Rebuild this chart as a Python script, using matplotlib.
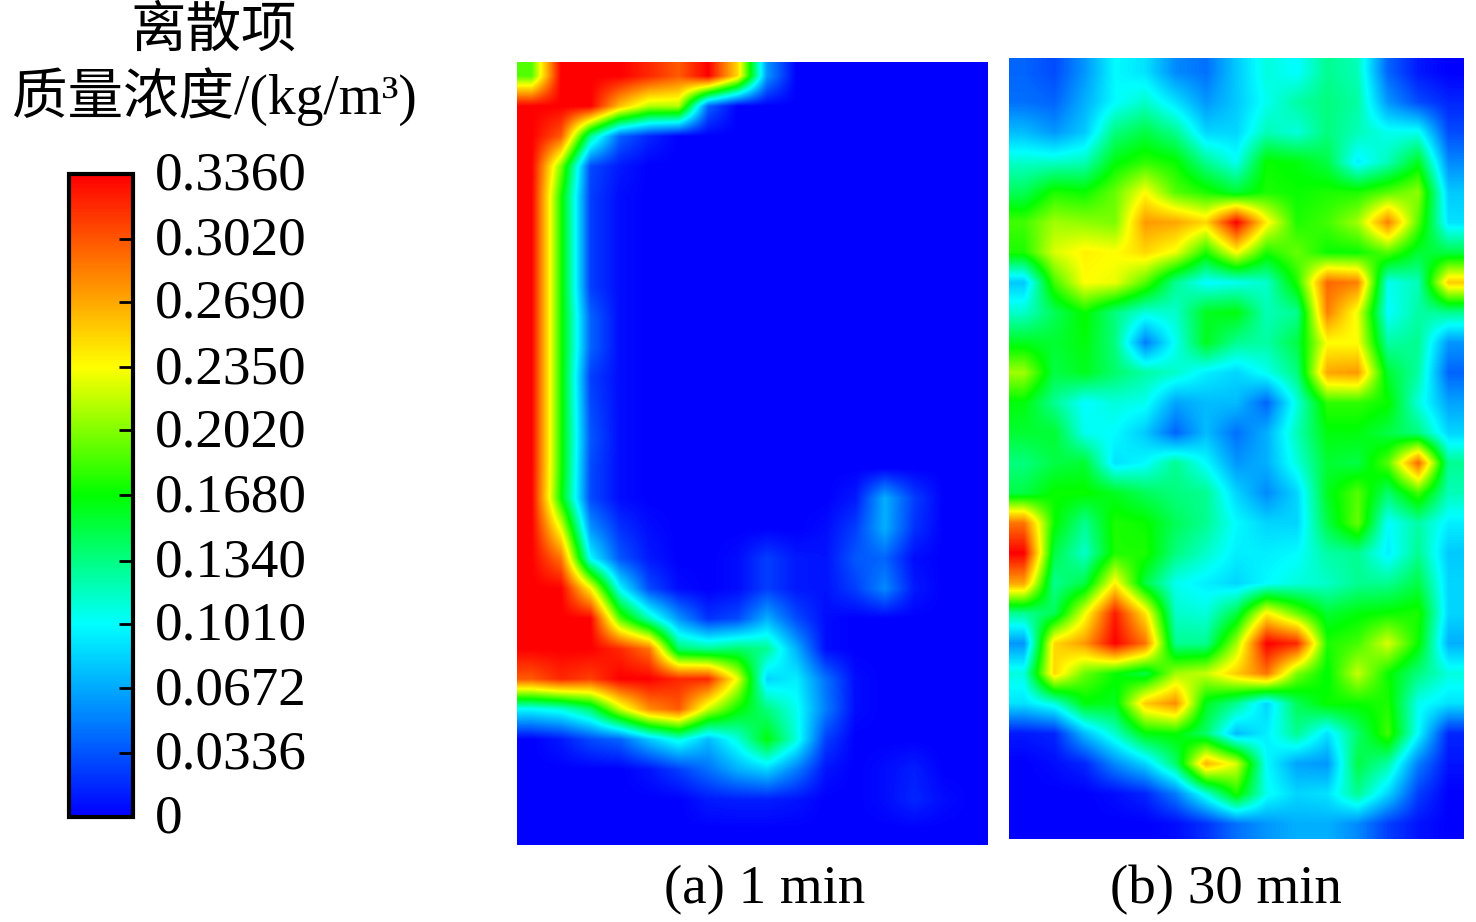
import numpy as np
import matplotlib
matplotlib.use('Agg')
import matplotlib.pyplot as plt
from matplotlib.colors import LinearSegmentedColormap
from matplotlib.transforms import ScaledTranslation

plt.rcParams['font.family'] = ['Liberation Serif', 'Noto Sans CJK SC']

W, H = 1476, 922

# concentration, in 0.001 kg/m3
conc_1min = [
    [190, 336, 336, 336, 320, 300, 336, 250, 60, 0, 0, 0, 0, 0, 0, 0],
    [336, 336, 336, 260, 215, 215, 40, 0, 0, 0, 0, 0, 0, 0, 0, 0],
    [336, 300, 130, 40, 15, 0, 0, 0, 0, 0, 0, 0, 0, 0, 0, 0],
    [336, 200, 30, 10, 0, 0, 0, 0, 0, 0, 0, 0, 0, 0, 0, 0],
    [336, 175, 25, 5, 0, 0, 0, 0, 0, 0, 0, 0, 0, 0, 0, 0],
    [336, 175, 25, 5, 0, 0, 0, 0, 0, 0, 0, 0, 0, 0, 0, 0],
    [336, 175, 25, 5, 0, 0, 0, 0, 0, 0, 0, 0, 0, 0, 0, 0],
    [336, 175, 25, 5, 0, 0, 0, 0, 0, 0, 0, 0, 0, 0, 0, 0],
    [336, 175, 40, 5, 0, 0, 0, 0, 0, 0, 0, 0, 0, 0, 0, 0],
    [336, 175, 40, 5, 0, 0, 0, 0, 0, 0, 0, 0, 0, 0, 0, 0],
    [336, 175, 25, 5, 0, 0, 0, 0, 0, 0, 0, 0, 0, 0, 0, 0],
    [336, 175, 30, 5, 0, 0, 0, 0, 0, 0, 0, 0, 0, 0, 0, 0],
    [336, 175, 35, 5, 0, 0, 0, 0, 0, 0, 0, 0, 0, 0, 0, 0],
    [336, 175, 30, 5, 0, 0, 0, 0, 0, 0, 0, 0, 0, 0, 0, 0],
    [336, 170, 30, 5, 0, 0, 0, 0, 0, 0, 0, 10, 70, 25, 0, 0],
    [336, 230, 60, 20, 5, 0, 0, 0, 0, 0, 5, 25, 70, 20, 0, 0],
    [336, 290, 100, 35, 10, 0, 0, 5, 25, 10, 8, 35, 40, 5, 0, 0],
    [336, 336, 240, 100, 30, 5, 0, 5, 25, 10, 8, 25, 55, 10, 0, 0],
    [336, 336, 336, 190, 120, 60, 20, 30, 70, 30, 5, 0, 0, 0, 0, 0],
    [336, 336, 336, 320, 290, 140, 130, 140, 130, 70, 5, 0, 0, 0, 0, 0],
    [300, 320, 310, 336, 336, 320, 320, 230, 85, 95, 45, 5, 0, 0, 0, 0],
    [100, 110, 140, 220, 280, 300, 220, 170, 135, 105, 50, 5, 0, 0, 0, 0],
    [0, 10, 30, 40, 80, 110, 75, 110, 165, 110, 25, 0, 0, 0, 0, 0],
    [0, 0, 0, 0, 8, 25, 45, 70, 85, 50, 8, 0, 5, 12, 0, 0],
    [0, 0, 0, 0, 0, 0, 10, 12, 12, 8, 0, 0, 5, 15, 5, 0],
    [0, 0, 0, 0, 0, 0, 0, 0, 0, 0, 0, 0, 0, 0, 0, 0],
]

conc_30min = [
    [40, 30, 60, 100, 90, 55, 45, 80, 110, 100, 130, 120, 40, 10, 0],
    [45, 40, 70, 100, 115, 90, 60, 80, 105, 125, 135, 125, 60, 30, 15],
    [75, 60, 80, 135, 150, 130, 85, 85, 120, 110, 135, 120, 105, 105, 30],
    [115, 115, 120, 165, 180, 170, 130, 105, 170, 165, 150, 95, 120, 160, 55],
    [145, 175, 170, 195, 235, 190, 175, 155, 175, 170, 175, 175, 190, 205, 80],
    [185, 210, 205, 200, 275, 270, 250, 336, 240, 175, 185, 210, 285, 190, 90],
    [175, 225, 240, 235, 250, 230, 175, 235, 175, 195, 170, 170, 190, 155, 150],
    [80, 185, 235, 230, 190, 130, 100, 105, 115, 175, 295, 285, 105, 120, 255],
    [115, 145, 170, 135, 110, 115, 160, 165, 120, 130, 285, 230, 100, 125, 130],
    [160, 155, 165, 135, 50, 105, 160, 130, 125, 150, 235, 235, 125, 130, 60],
    [210, 150, 160, 140, 125, 115, 95, 85, 105, 135, 270, 275, 155, 125, 40],
    [165, 130, 100, 110, 105, 65, 75, 75, 40, 110, 180, 180, 170, 110, 65],
    [155, 155, 105, 100, 80, 40, 75, 45, 70, 120, 165, 165, 150, 135, 85],
    [135, 150, 155, 90, 100, 130, 100, 60, 70, 110, 155, 150, 190, 295, 130],
    [150, 170, 170, 160, 145, 135, 130, 85, 55, 85, 160, 190, 140, 185, 120],
    [290, 170, 130, 175, 170, 145, 130, 100, 85, 85, 150, 195, 100, 125, 95],
    [336, 150, 115, 175, 175, 135, 115, 95, 95, 100, 125, 130, 95, 130, 80],
    [270, 130, 150, 240, 150, 105, 95, 85, 100, 110, 115, 130, 130, 150, 85],
    [130, 145, 230, 325, 245, 115, 110, 150, 240, 195, 155, 165, 170, 175, 85],
    [60, 250, 275, 336, 290, 130, 130, 210, 336, 320, 175, 185, 225, 170, 70],
    [110, 250, 195, 170, 150, 210, 220, 255, 290, 200, 165, 220, 170, 135, 110],
    [90, 110, 165, 160, 255, 280, 160, 130, 85, 145, 170, 170, 175, 105, 90],
    [10, 15, 75, 115, 165, 170, 140, 75, 95, 130, 90, 140, 185, 100, 15],
    [0, 5, 15, 55, 85, 140, 265, 225, 100, 65, 60, 150, 125, 50, 8],
    [0, 0, 0, 5, 15, 50, 110, 175, 105, 85, 90, 130, 85, 25, 0],
    [0, 0, 0, 0, 0, 5, 20, 45, 60, 70, 70, 55, 25, 8, 0],
]

tick_values = [0.3360, 0.3020, 0.2690, 0.2350, 0.2020, 0.1680, 0.1340, 0.1010, 0.0672, 0.0336, 0]
tick_labels = ['0.3360', '0.3020', '0.2690', '0.2350', '0.2020', '0.1680', '0.1340', '0.1010', '0.0672', '0.0336', '0']

cmap = LinearSegmentedColormap.from_list('fluent', [
    (0.0, '#0000ff'), (0.3, '#00ffff'), (0.5, '#00ff00'), (0.7, '#ffff00'), (1.0, '#ff0000')])


def px_axes(x0, y0, x1, y1):
    return fig.add_axes([x0 / W, 1 - y1 / H, (x1 - x0) / W, (y1 - y0) / H])


fig = plt.figure(figsize=(W / 100, H / 100), dpi=100)

ax1 = px_axes(517, 62, 988, 845)
im = ax1.imshow(np.array(conc_1min) / 1000, cmap=cmap, vmin=0, vmax=0.336, aspect='auto', interpolation='bilinear')
ax1.axis('off')

ax2 = px_axes(1009, 58, 1464, 839)
ax2.imshow(np.array(conc_30min) / 1000, cmap=cmap, vmin=0, vmax=0.336, aspect='auto', interpolation='bilinear')
ax2.axis('off')

cax = px_axes(69, 174, 133, 817)
cbar = fig.colorbar(im, cax=cax, ticks=tick_values)
cbar.ax.set_yticklabels(tick_labels)
cbar.ax.tick_params(direction='in', length=10, width=2, pad=16, labelsize=39.8)
# labels sit a little above the ticks in the original
shift = ScaledTranslation(0, 3.5 / 100, fig.dpi_scale_trans)
for lab in cbar.ax.get_yticklabels():
    lab.set_transform(lab.get_transform() + shift)
cbar.outline.set_linewidth(3)

fig.text(214 / W, 1 - 33 / H, '离散项', fontsize=40, ha='center', va='center')
fig.text(214 / W, 1 - 97 / H, '质量浓度/(kg/m³)', fontsize=40, ha='center', va='center')
fig.text(765 / W, 1 - 890 / H, '(a) 1 min', fontsize=39.5, ha='center', va='center')
fig.text(1226 / W, 1 - 890 / H, '(b) 30 min', fontsize=39.5, ha='center', va='center')

fig.savefig('out.png', dpi=100)
